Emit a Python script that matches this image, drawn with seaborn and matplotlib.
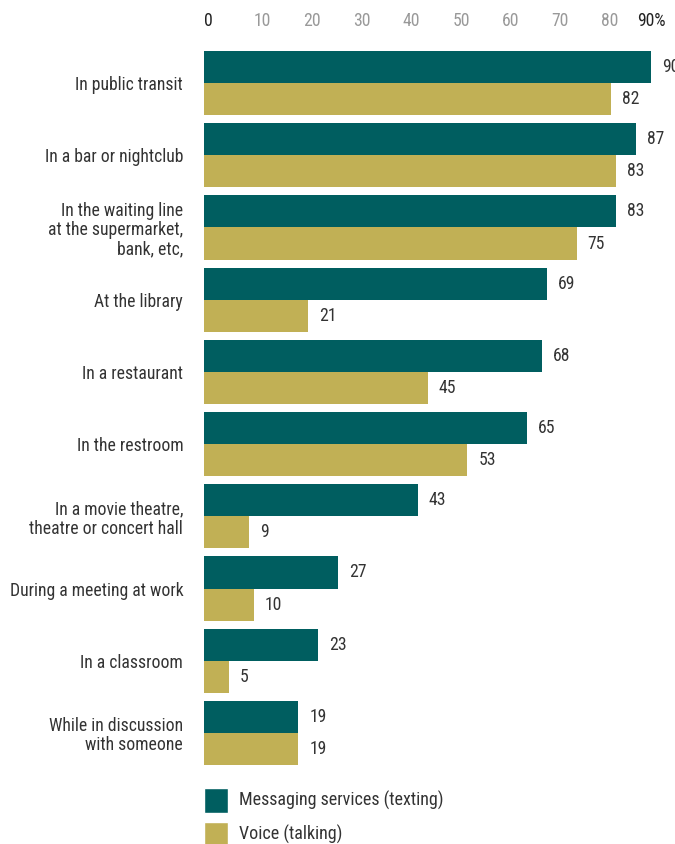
import pandas as pd
import matplotlib.pyplot as plt
import seaborn as sns
from matplotlib.patches import Patch

# Chart data
places = ["In public transit", "In a bar or nightclub",
          "In the waiting line\nat the supermarket,\nbank, etc,",
          "At the library", "In a restaurant", "In the restroom",
          "In a movie theatre,\ntheatre or concert hall",
          "During a meeting at work", "In a classroom",
          "While in discussion\nwith someone"]
texting = [90, 87, 83, 69, 68, 65, 43, 27, 23, 19]
talking = [82, 83, 75, 21, 45, 53, 9, 10, 5, 19]
series = ["Messaging services (texting)", "Voice (talking)"]
ticks = [0, 10, 20, 30, 40, 50, 60, 70, 80, 90]
tick_labels = ["0", "10", "20", "30", "40", "50", "60", "70", "80", "90%"]

teal = "#005E60"
gold = "#C1B055"
txt = "#333333"

df = pd.DataFrame({
    "place": places * 2,
    "value": texting + talking,
    "type": [series[0]] * len(places) + [series[1]] * len(places),
})

sns.set_style("white")
plt.rcParams['font.family'] = ['Roboto Condensed', 'Liberation Sans Narrow', 'DejaVu Sans']
plt.rcParams['font.stretch'] = 'condensed'
fs = 12.7

fig = plt.figure(figsize=(6.75, 8.44), dpi=100)
ax = fig.add_axes([204 / 675, 1 - 765 / 844, (651 - 204) / 675, (765 - 51) / 844])

sns.barplot(data=df, y="place", x="value", hue="type", orient="h",
            palette=[teal, gold], width=0.889, legend=False, ax=ax,
            saturation=1, edgecolor="none")

for c in ax.containers:
    ax.bar_label(c, padding=8, fontsize=fs, color=txt)

ax.set_xlim(0, 90)
ax.set_ylim(9.4445, -0.4445)
ax.xaxis.tick_top()
ax.set_xticks(ticks)
ax.set_xticklabels(tick_labels, fontsize=fs)
for lab, t in zip(ax.get_xticklabels(), ticks):
    lab.set_color("#222222" if t in (0, 90) else "#999999")
    lab.set_ha("center" if t == 90 else "left")
ax.tick_params(axis="x", length=0, pad=15)
ax.tick_params(axis="y", length=0, pad=15, labelsize=fs, labelcolor=txt)
for lab in ax.get_yticklabels():
    lab.set_linespacing(1.1)
ax.set_xlabel("")
ax.set_ylabel("")
sns.despine(ax=ax, left=True, bottom=True, top=True, right=True)
ax.grid(False)

handles = [Patch(facecolor=teal), Patch(facecolor=gold)]
fig.legend(handles, series, loc="upper left", bbox_to_anchor=(204 / 675, 1 - 788 / 844),
           frameon=False, fontsize=13, handlelength=1.34, handleheight=1.72,
           handletextpad=0.6, labelspacing=0.5, labelcolor=txt, borderpad=0,
           borderaxespad=0)

fig.savefig("out.png", dpi=100)
